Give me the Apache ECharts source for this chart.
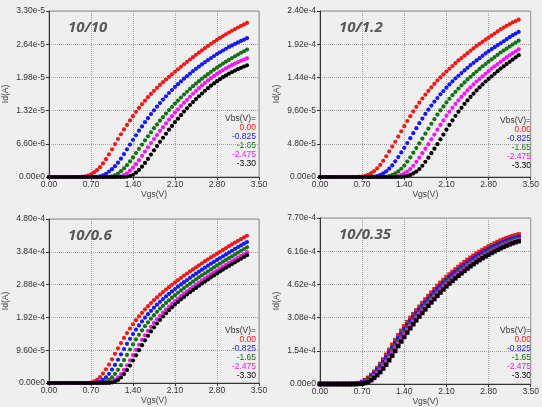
<!DOCTYPE html>
<html>
<head>
<meta charset="utf-8">
<script src="https://cdn.jsdelivr.net/npm/echarts@6/dist/echarts.min.js"></script>
<style>
  html, body { margin: 0; padding: 0; background: #efefef; }
  #chart { width: 542px; height: 407px; }
</style>
</head>
<body>
<div id="chart"></div>
<script>
// Vgs sweep (V), one point every 0.05 V
const vgs = [0,0.05,0.1,0.15,0.2,0.25,0.3,0.35,0.4,0.45,0.5,0.55,0.6,0.65,0.7,0.75,0.8,0.85,0.9,0.95,
  1,1.05,1.1,1.15,1.2,1.25,1.3,1.35,1.4,1.45,1.5,1.55,1.6,1.65,1.7,1.75,1.8,1.85,1.9,1.95,
  2,2.05,2.1,2.15,2.2,2.25,2.3,2.35,2.4,2.45,2.5,2.55,2.6,2.65,2.7,2.75,2.8,2.85,2.9,2.95,
  3,3.05,3.1,3.15,3.2,3.25,3.3]

const vbsLabels = ['0.00', '-0.825', '-1.65', '-2.475', '-3.30']
const xTicks = ['0.00', '0.70', '1.40', '2.10', '2.80', '3.50']
const titles = ['10/10', '10/1.2', '10/0.6', '10/0.35']

// y tick labels and ranges (data below is in uA)
const yTicks1 = ['0.00e0', '6.60e-6', '1.32e-5', '1.98e-5', '2.64e-5', '3.30e-5']
const yTicks2 = ['0.00e0', '4.80e-5', '9.60e-5', '1.44e-4', '1.92e-4', '2.40e-4']
const yTicks3 = ['0.00e0', '9.60e-5', '1.92e-4', '2.88e-4', '3.84e-4', '4.80e-4']
const yTicks4 = ['0.00e0', '1.54e-4', '3.08e-4', '4.62e-4', '6.16e-4', '7.70e-4']
const yMax = [33, 240, 480, 770]

// 10/10 (uA)
const red1 = [0,0,0,0,0, 0,0,0,0,0, 0,
  0.05,0.15,0.3,0.55,0.9,1.35,1.95,2.7,3.55,4.5,5.5,6.55,7.55,8.5,9.45,10.35,11.25,12.1,12.95,13.73,
  14.47,15.18,15.86,16.51,17.13,17.73,18.3,18.85,19.38,19.89,20.41,20.92,21.42,21.92,22.41,22.89,23.36,23.83,24.29,24.74,
  25.19,25.63,26.06,26.48,26.88,27.27,27.65,28.02,28.38,28.73,29.07,29.4,29.72,30.03,30.33,30.62]
const blue1 = [0,0,0,0,0, 0,0,0,0,0, 0,0,0,0,0, 0,
  0.05,0.15,0.35,0.65,1.05,1.55,2.15,2.85,3.65,4.55,5.5,6.45,7.4,8.3,9.2,10.05,10.9,11.7,12.5,13.25,
  14,14.7,15.4,16.05,16.7,17.3,17.9,18.45,19,19.55,20.05,20.55,21.05,21.5,21.95,22.4,22.85,23.25,23.65,24.05,
  24.45,24.8,25.15,25.5,25.85,26.15,26.45,26.75,27.05,27.3,27.6]
const green1 = [0,0,0,0,0, 0,0,0,0,0, 0,0,0,0,0, 0,0,0,0,0,
  0.05,0.15,0.35,0.7,1.15,1.7,2.35,3.1,3.9,4.75,5.6,6.45,7.3,8.1,8.9,9.7,10.45,11.2,11.9,12.6,
  13.3,13.95,14.6,15.2,15.8,16.4,16.95,17.5,18.05,18.55,19.05,19.55,20,20.45,20.9,21.35,21.75,22.15,22.55,22.95,
  23.3,23.65,24,24.35,24.7,25,25.35]
const magenta1 = [0,0,0,0,0, 0,0,0,0,0, 0,0,0,0,0, 0,0,0,0,0, 0,0,0,
  0.05,0.15,0.4,0.75,1.25,1.85,2.55,3.35,4.2,5.05,5.9,6.75,7.55,8.35,9.15,9.9,10.65,11.4,12.1,12.8,
  13.45,14.1,14.75,15.35,15.95,16.55,17.1,17.65,18.2,18.7,19.2,19.65,20.1,20.5,20.9,21.25,21.6,21.95,22.25,22.55,
  22.85,23.1,23.35,23.6]
const black1 = [0,0,0,0,0, 0,0,0,0,0, 0,0,0,0,0, 0,0,0,0,0, 0,0,0,0,0, 0,
  0.05,0.2,0.45,0.85,1.4,2.05,2.8,3.6,4.45,5.3,6.15,7,7.8,8.6,9.4,10.15,10.9,11.6,12.3,13,
  13.65,14.3,14.9,15.5,16.05,16.6,17.15,17.65,18.15,18.6,19.05,19.45,19.85,20.2,20.55,20.85,21.15,21.45,21.7,21.95,
  22.2]

// 10/1.2 (uA)
const red2 = [0,0,0,0,0, 0,0,0,0,0, 0,0,0,
  0.1,0.6,1.5,3.2,5.5,8.5,12.5,17.5,23.5,30,37,44,51,58.5,66,73.5,81,88,95,101.5,
  107.5,113.5,119,124.5,129.5,134.5,139.5,144,148.5,152.5,156.5,160.5,164.5,168.5,172,175.5,179,182.5,186,189.5,
  192.5,195.5,198.5,201.5,204.5,207.5,210.5,213.5,216,218.5,221,223.5,225.5,227.5]
const blue2 = [0,0,0,0,0, 0,0,0,0,0, 0,0,0,0,0, 0,0,
  0.1,0.6,1.4,3.1,5.3,8.2,12,16.8,22.6,28.8,35.5,42.2,49,56.2,63.4,70.6,77.8,84.5,91.2,97.4,
  103.2,109,114.2,119.5,124.3,129.1,133.9,138.2,142.6,146.4,150.2,154.1,157.9,161.8,165.1,168.5,171.8,175.2,178.6,181.9,
  184.8,187.7,190.6,193.4,196.3,199.2,202.1,205,207.4,209.8]
const green2 = [0,0,0,0,0, 0,0,0,0,0, 0,0,0,0,0, 0,0,0,0,0, 0,
  0.1,0.6,1.4,3,5.2,8.1,11.9,16.6,22.3,28.5,35.2,41.8,48.5,55.6,62.7,69.8,77,83.6,90.3,96.4,
  102.1,107.8,113.1,118.3,123,127.8,132.5,136.8,141.1,144.9,148.7,152.5,156.3,160.1,163.4,166.7,170.1,173.4,176.7,180,
  182.9,185.7,188.6,191.4,194.3,197.1]
const magenta2 = [0,0,0,0,0, 0,0,0,0,0, 0,0,0,0,0, 0,0,0,0,0, 0,0,0,0,
  0.1,0.6,1.4,3,5.1,7.9,11.6,16.3,21.9,27.9,34.4,40.9,47.4,54.4,61.4,68.4,75.3,81.8,88.4,94.4,
  100,105.6,110.7,115.8,120.4,125.1,129.7,133.9,138.1,141.8,145.5,149.3,153,156.7,160,163.2,166.5,169.7,173,176.2,
  179,181.8,184.6]
const black2 = [0,0,0,0,0, 0,0,0,0,0, 0,0,0,0,0, 0,0,0,0,0, 0,0,0,0,0, 0,0,
  0.1,0.6,1.4,3,5.1,7.9,11.6,16.3,21.9,27.9,34.4,40.9,47.4,54.4,61.4,68.4,75.3,81.8,88.4,94.4,
  100,105.6,110.7,115.8,120.4,125.1,129.7,133.9,138.1,141.8,145.5,149.3,153,156.7,160,163.2,166.5,169.7,173,176.2]

// 10/0.6 (uA)
const red3 = [0,0,0,0,0, 0,0,0,0,0, 0,0,0,
  0.3,1.5,4.5,9.5,17,27.5,40,54,69.5,85.5,101.5,117,132,146,159.5,172,184,195,205.5,215.5,
  225,234,242.5,250.5,258.5,266,273.5,280.5,287.5,294.5,301,307.5,314,320.5,326.5,332.5,338.5,344.5,350.5,356.5,
  362,367.5,373,378.5,384,389.5,395,400.5,406,411,416,421,426,431]
const blue3 = [0,0,0,0,0, 0,0,0,0,0, 0,0,0,0,0,
  0.3,1.5,4.4,9.3,16.7,27,39.2,52.9,68.1,83.8,99.5,114.7,129.4,143.1,156.3,168.6,180.3,191.1,201.4,211.2,
  220.5,229.3,237.7,245.5,253.3,260.7,268,274.9,281.8,288.6,295,301.4,307.7,314.1,320,325.9,331.7,337.6,343.5,349.4,
  354.8,360.2,365.5,370.9,376.3,381.7,387.1,392.5,397.9,402.8,407.7,412.6]
const green3 = [0,0,0,0,0, 0,0,0,0,0, 0,0,0,0,0, 0,0,
  0.3,1.4,4.3,9.2,16.4,26.6,38.6,52.2,67.1,82.6,98,113,127.5,141,154.1,166.2,177.7,188.4,198.5,208.2,
  217.4,226,234.3,242,249.7,257,264.2,271,277.7,284.5,290.8,297,303.3,309.6,315.4,321.2,327,332.8,338.6,344.4,
  349.7,355,360.3,365.6,370.9,376.3,381.6,386.9,392.2,397]
const magenta3 = [0,0,0,0,0, 0,0,0,0,0, 0,0,0,0,0, 0,0,0,0,
  0.3,1.4,4.3,9.1,16.3,26.3,38.2,51.6,66.4,81.7,97,111.9,126.2,139.6,152.5,164.4,175.9,186.4,196.5,206,
  215.1,223.7,231.8,239.5,247.1,254.3,261.5,268.2,274.9,281.5,287.8,294,300.2,306.4,312.1,317.9,323.6,329.3,335.1,340.8,
  346.1,351.3,356.6,361.9,367.1,372.4,377.6,382.9]
const black3 = [0,0,0,0,0, 0,0,0,0,0, 0,0,0,0,0, 0,0,0,0,0,
  0.3,1.4,4.3,9,16.1,26,37.9,51.1,65.8,81,96.1,110.8,125,138.3,151,162.9,174.2,184.7,194.6,204.1,
  213.1,221.6,229.6,237.2,244.8,252,259,265.6,272.2,278.4,284.7,290.9,297,303.1,309.2,314.9,320.6,326.3,332,337.6,
  342.8,348,353.2,358.5,363.7,368.9,374.1]

// 10/0.35 (uA)
const red4 = [0,0,0,0,0, 0,0,0,0,0, 0,
  0.3,1.5,4.5,10,18,29,42,57,74,93,114,136,159,182,204,226,247,267.5,287,306,
  324,341.5,358.5,375.5,392,408,424,439.5,454.5,469.5,482.5,495.3,507.8,520,531.9,543.4,554.5,565.3,575.7,585.7,
  595.3,604.5,613.3,621.7,629.7,637.4,644.8,651.9,658.7,665.2,671,676.5,681.5,686,690,694]
const blue4 = [0,0,0,0,0, 0,0,0,0,0, 0,
  0.1,0.9,3,7.1,13.8,23.1,35,48.8,64.5,82.2,101.9,123.1,145.3,167.9,190.1,211.8,233,253.4,273.1,292.1,
  310.3,327.8,344.8,361.5,378,394,409.8,425.3,440.3,455.1,468.9,481.6,494,506.2,518.1,529.6,540.7,551.5,561.9,572,
  581.6,590.9,599.8,608.2,616.3,624,631.5,638.6,645.5,652,658.1,663.6,668.8,673.5,677.7,681.6]
const green4 = [0,0,0,0,0, 0,0,0,0,0, 0,0,
  0.3,1.5,4.4,9.8,17.6,28.3,41,55.6,72.2,90.7,111.2,132.6,155,177.5,198.9,220.4,240.8,260.8,279.8,298.4,
  315.9,333,349.5,366.1,382.2,397.8,413.4,428.5,443.1,457.8,470.4,482.9,495.1,507,518.6,529.8,540.6,551.2,561.3,571.1,
  580.4,589.4,598,606.2,614,621.5,628.7,635.6,642.2,648.6,654.2,659.6,664.5,668.9,672.8]
const magenta4 = [0,0,0,0,0, 0,0,0,0,0, 0,0,
  0.1,0.9,2.9,7,13.6,22.8,34.4,48,63.5,81,100.4,121.3,143.1,165.4,187.2,208.6,229.4,249.5,268.9,287.6,
  305.6,322.8,339.5,356,372.2,388,403.5,418.8,433.6,448.1,461.7,474.2,486.5,498.5,510.2,521.5,532.5,543.1,553.4,563.3,
  572.8,581.9,590.6,599,606.9,614.5,621.9,628.9,635.6,642.1,648.1,653.5,658.6,663.2,667.4]
const black4 = [0,0,0,0,0, 0,0,0,0,0, 0,0,0,
  0.3,1.4,4.3,9.7,17.4,28,40.5,55,71.4,89.7,110,131.2,153.4,175.6,196.9,218.1,238.4,258.1,277,295.3,
  312.7,329.5,346,362.4,378.3,393.7,409.2,424.1,438.6,453.1,465.6,478,490,501.8,513.3,524.4,535.1,545.5,555.5,565.2,
  574.5,583.3,591.8,600,607.7,615.1,622.2,629.1,635.6,641.9,647.5,652.8,657.6,662]

const colors = ['#f01818', '#1818f0', '#157015', '#f018f0', '#000000']
const panels = [
  { ticks: yTicks1, curves: [red1, blue1, green1, magenta1, black1], grid: [49, 11, 210, 166], symbol: 'circle', legendTop: 119 },
  { ticks: yTicks2, curves: [red2, blue2, green2, magenta2, black2], grid: [320, 11, 214, 166], symbol: 'circle', legendTop: 121 },
  { ticks: yTicks3, curves: [red3, blue3, green3, magenta3, black3], grid: [49, 219, 210, 164], symbol: 'circle', legendTop: 331 },
  { ticks: yTicks4, curves: [red4, blue4, green4, magenta4, black4], grid: [320, 218, 214, 166], symbol: 'rect', legendTop: 331 }
]

const font = 'Liberation Sans, Arial, sans-serif'
const fs = 8.5
const axisColor = '#333'

let grids = [], xAxes = [], yAxes = [], series = [], titleList = [], graphics = []

panels.forEach((p, k) => {
  const [left, top, width, height] = p.grid
  const step = yMax[k] / 5
  grids.push({ left, top, width, height, show: true, borderColor: '#8c8c8c', borderWidth: 1, backgroundColor: 'transparent' })
  xAxes.push({
    gridIndex: k, type: 'value', min: 0, max: 3.5, interval: 0.7,
    name: 'Vgs(V)', nameLocation: 'middle', nameGap: 13,
    nameTextStyle: { fontSize: fs, color: '#444', fontFamily: font },
    axisLine: { onZero: false, lineStyle: { color: axisColor } },
    axisTick: { length: 3, lineStyle: { color: axisColor } },
    axisLabel: { fontSize: fs, color: '#333', margin: 3, fontFamily: font,
      formatter: (v) => xTicks[Math.round(v / 0.7)] },
    splitLine: { lineStyle: { type: 'dotted', color: '#a4a4a4' } }
  })
  yAxes.push({
    gridIndex: k, type: 'value', min: 0, max: yMax[k], interval: step,
    name: 'Id(A)', nameLocation: 'middle', nameGap: 39,
    nameTextStyle: { fontSize: fs, color: '#444', fontFamily: font },
    axisLine: { onZero: false, lineStyle: { color: axisColor } },
    axisTick: { show: true, length: 3, lineStyle: { color: axisColor } },
    axisLabel: { fontSize: fs, color: '#333', margin: 4, fontFamily: font,
      formatter: (v) => p.ticks[Math.round(v / step)] },
    splitLine: { lineStyle: { type: 'dotted', color: '#a4a4a4' } }
  })
  p.curves.forEach((vals, s) => {
    series.push({
      type: 'scatter', xAxisIndex: k, yAxisIndex: k, silent: true,
      symbol: p.symbol, symbolSize: p.symbol === 'rect' ? 4.4 : 4.2,
      itemStyle: { color: colors[s], opacity: 1 },
      data: vals.map((y, i) => [vgs[i], y])
    })
  })
  titleList.push({
    text: titles[k], left: left + 19, top: top + 9, padding: 0,
    textStyle: { fontSize: 15, fontStyle: 'italic', fontWeight: 'bold', color: '#575757', fontFamily: 'Open Sans, sans-serif' }
  })
  const rx = left + width - 3
  graphics.push({
    type: 'text', right: 542 - rx, top: p.legendTop - 5,
    style: { text: 'Vbs(V)=', fill: '#333', font: fs + 'px ' + font, textAlign: 'right' }
  })
  vbsLabels.forEach((lab, s) => {
    graphics.push({
      type: 'text', right: 542 - rx, top: p.legendTop - 5 + 9 * (s + 1),
      style: { text: lab, fill: colors[s], font: fs + 'px ' + font, textAlign: 'right' }
    })
  })
})

const chart = echarts.init(document.getElementById('chart'))
chart.setOption({
  backgroundColor: '#efefef',
  animation: false,
  title: titleList,
  grid: grids,
  xAxis: xAxes,
  yAxis: yAxes,
  graphic: graphics,
  series: series
})
</script>
</body>
</html>
